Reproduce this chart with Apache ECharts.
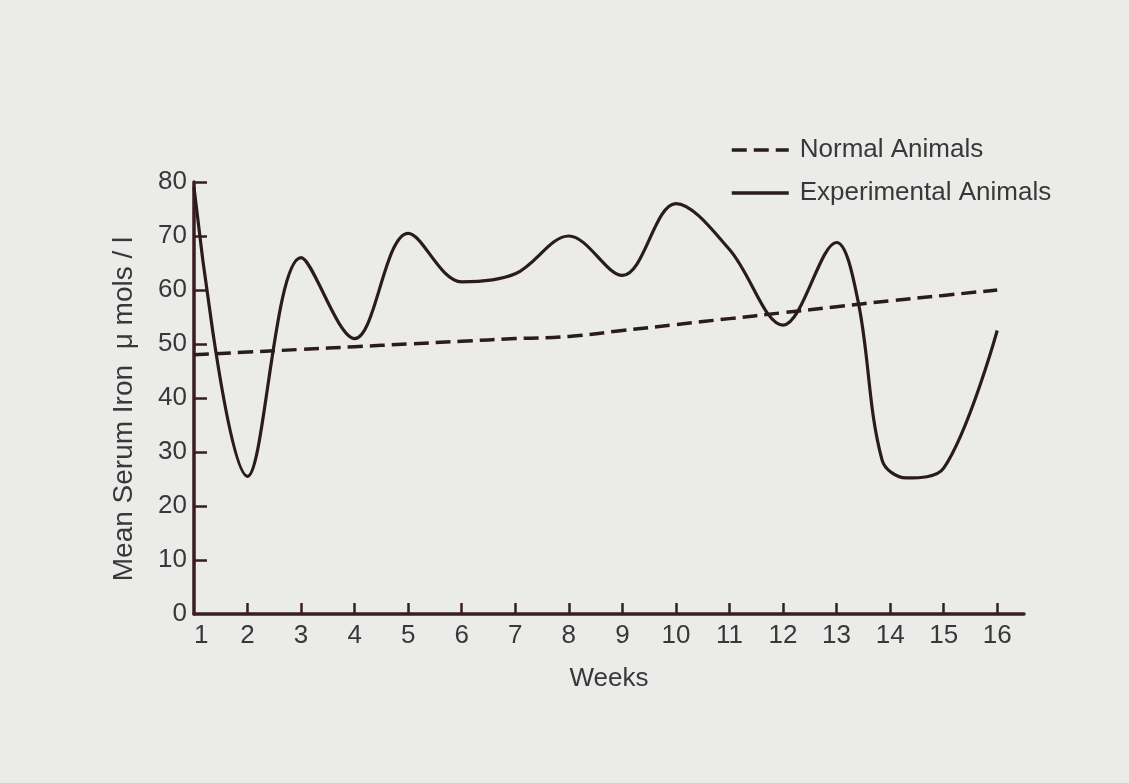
<!DOCTYPE html>
<html>
<head>
<meta charset="utf-8">
<script src="https://cdn.jsdelivr.net/npm/echarts@6/dist/echarts.min.js"></script>
<style>
  html, body { margin: 0; padding: 0; background: #ebebea; }
  #chart { width: 1129px; height: 783px; }
</style>
</head>
<body>
<div id="chart"></div>
<script>
// ---- data ----
const weekTicks = [1, 2, 3, 4, 5, 6, 7, 8, 9, 10, 11, 12, 13, 14, 15, 16];
const normalWeeks = [1, 2, 3, 4, 5, 6, 7, 8, 9, 10, 11, 12, 13, 14, 15, 16];
const normalValues = [48, 48.5, 49, 49.5, 50, 50.5, 51, 51.4, 52.5, 53.6, 54.7, 55.8, 56.9, 58, 59, 60];
const experimentalWeeks = [1, 2, 3, 4, 5, 6, 7, 8, 9, 10, 11, 12, 13, 13.4, 13.85, 14.3, 15, 16];
const experimentalValues = [79, 25.5, 66, 51, 70.5, 61.5, 63, 70, 62.7, 76, 67.5, 53.5, 68.8, 58, 28.5, 25.2, 27, 52.5];
const yTicks = [0, 10, 20, 30, 40, 50, 60, 70, 80];
const seriesNames = ['Normal Animals', 'Experimental Animals'];
const xTitle = 'Weeks';
const yTitle = 'Mean Serum Iron  \u03bc mols / l';

const ink = '#2a1b1d';
const axisInk = '#3a1d21';
const textInk = '#383838';
const font = '"Liberation Sans", Arial, sans-serif';

const chart = echarts.init(document.getElementById('chart'), null, { renderer: 'canvas' });
chart.setOption({
  backgroundColor: '#ebebea',
  animation: false,
  legend: {
    orient: 'vertical',
    left: 725,
    top: 132,
    itemWidth: 57,
    itemHeight: 14,
    itemGap: 17,
    data: seriesNames,
    itemStyle: { opacity: 0 },
    lineStyle: { width: 3.5, color: ink },
    textStyle: { fontFamily: font, fontSize: 26, color: textInk, padding: [0, 0, 0, 6], lineHeight: 26 }
  },
  grid: { left: 194, right: 105, top: 182, bottom: 169, containLabel: false },
  xAxis: {
    type: 'value',
    min: 1,
    max: 16.5,
    interval: 1,
    name: xTitle,
    nameLocation: 'middle',
    nameGap: 52,
    nameTextStyle: { fontFamily: font, fontSize: 26, color: textInk },
    axisLine: { lineStyle: { color: axisInk, width: 3.5 } },
    axisTick: { inside: true, length: 11, customValues: weekTicks.slice(1), lineStyle: { color: axisInk, width: 2.5 } },
    axisLabel: { customValues: weekTicks, alignMinLabel: 'left', margin: 9, fontFamily: font, fontSize: 26, color: textInk },
    splitLine: { show: false }
  },
  yAxis: {
    type: 'value',
    min: 0,
    max: 80,
    interval: 10,
    name: yTitle,
    nameLocation: 'middle',
    nameGap: 56,
    nameTextStyle: { fontFamily: font, fontSize: 28, color: textInk, padding: [0, 22, 0, 0] },
    axisLine: { show: true, lineStyle: { color: axisInk, width: 3.5 } },
    axisTick: { show: true, inside: true, length: 13, customValues: yTicks.slice(1), lineStyle: { color: axisInk, width: 2.5 } },
    axisLabel: { customValues: yTicks, margin: 7, fontFamily: font, fontSize: 26, color: textInk },
    splitLine: { show: false }
  },
  series: [
    {
      name: seriesNames[0],
      type: 'line',
      data: normalWeeks.map((w, i) => [w, normalValues[i]]),
      smooth: true,
      symbol: 'none',
      lineStyle: { color: ink, width: 3.5, type: [15, 7] },
      itemStyle: { color: ink }
    },
    {
      name: seriesNames[1],
      type: 'line',
      data: experimentalWeeks.map((w, i) => [w, experimentalValues[i]]),
      smooth: 0.35,
      symbol: 'none',
      lineStyle: { color: ink, width: 3.2 },
      itemStyle: { color: ink }
    }
  ]
});
</script>
</body>
</html>
